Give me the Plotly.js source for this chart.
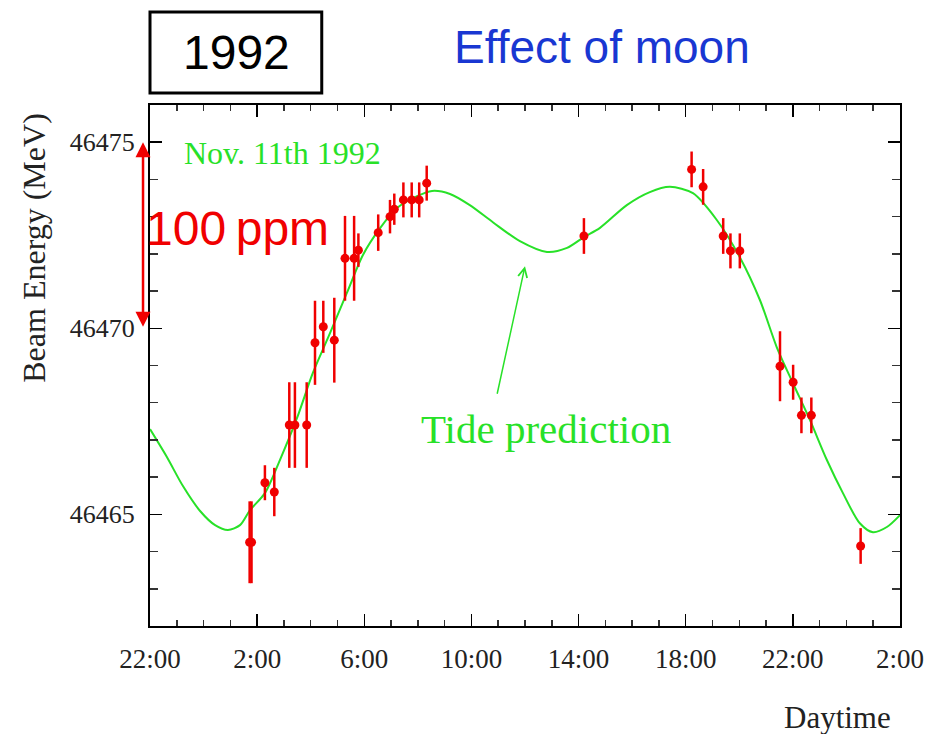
<!DOCTYPE html>
<html>
<head>
<meta charset="utf-8">
<script src="https://cdn.plot.ly/plotly-3.0.1.min.js"></script>
<style>html,body{margin:0;padding:0;background:#fff;}#chart{width:931px;height:734px;}</style>
</head>
<body>
<div id="chart"></div>
<script>
// Measured beam energy (hours since midnight Nov. 11th 1992)
var measTime = [1.72, 1.79, 2.29, 2.64, 3.20, 3.41, 3.85, 4.16, 4.47, 4.88, 5.28, 5.62, 5.78, 6.52, 6.96, 7.12, 7.46, 7.77, 8.05, 8.33,
                14.20, 18.22, 18.65, 19.40, 19.67, 20.02, 21.52, 22.01, 22.32, 22.69, 24.53];
var measEnergy = [46464.25, 46464.25, 46465.85, 46465.60, 46467.40, 46467.40, 46467.40, 46469.61, 46470.04, 46469.68, 46471.88, 46471.88, 46472.10, 46472.57, 46473.00, 46473.20, 46473.45, 46473.45, 46473.45, 46473.90,
                  46472.48, 46474.27, 46473.80, 46472.48, 46472.08, 46472.08, 46468.98, 46468.55, 46467.66, 46467.66, 46464.15];
var measError = [1.10, 1.10, 0.47, 0.65, 1.15, 1.15, 1.15, 1.13, 0.70, 1.14, 1.14, 1.14, 0.45, 0.49, 0.45, 0.42, 0.47, 0.47, 0.47, 0.47,
                 0.48, 0.48, 0.48, 0.48, 0.47, 0.47, 0.94, 0.47, 0.48, 0.48, 0.48];

// Tide prediction curve
var tideTime = [-2.0, -1.37, -0.77, -0.13, 0.43, 0.91, 1.36, 1.73, 2.29, 2.85, 3.49, 4.08, 4.72, 5.35, 5.95, 6.59, 7.22, 7.97, 8.53, 9.20,
                9.94, 10.80, 11.81, 12.82, 13.57, 14.20, 14.80, 15.80, 16.66, 17.41, 18.27, 19.16, 20.02, 20.77, 21.40, 22.00, 22.64, 23.27,
                23.87, 24.50, 24.99, 25.51, 26.0];
var tideEnergy = [46467.29, 46466.54, 46465.76, 46465.09, 46464.71, 46464.58, 46464.71, 46465.11, 46465.57, 46466.46, 46467.59, 46468.80,
                  46469.87, 46470.95, 46471.97, 46472.69, 46473.23, 46473.55, 46473.69, 46473.61, 46473.31, 46472.85, 46472.34, 46472.05,
                  46472.16, 46472.45, 46472.70, 46473.31, 46473.66, 46473.80, 46473.63, 46472.91, 46471.91, 46470.76, 46469.49, 46468.53,
                  46467.53, 46466.46, 46465.57, 46464.76, 46464.52, 46464.66, 46464.98];

// Tick labels
var xTickVals = [-2, 2, 6, 10, 14, 18, 22, 26];
var xTickText = ['22:00', '2:00', '6:00', '10:00', '14:00', '18:00', '22:00', '2:00'];
var yTickVals = [46465, 46470, 46475];
var yTickText = ['46465', '46470', '46475'];

var serif = 'Liberation Serif, Times New Roman, serif';
var sans = 'Liberation Sans, Arial, sans-serif';
var green = 'rgb(40,225,40)';
var red = 'rgb(240,0,0)';

var traces = [
  {
    x: tideTime, y: tideEnergy, type: 'scatter', mode: 'lines',
    line: {color: green, width: 2, shape: 'spline', smoothing: 0.8},
    hoverinfo: 'skip', showlegend: false
  },
  {
    x: measTime, y: measEnergy, type: 'scatter', mode: 'markers',
    marker: {color: red, size: 9},
    error_y: {type: 'data', array: measError, visible: true, color: red, thickness: 2.5, width: 0},
    showlegend: false
  }
];

var layout = {
  width: 931, height: 734,
  margin: {l: 150, r: 31, t: 105, b: 108},
  paper_bgcolor: '#fff', plot_bgcolor: '#fff',
  showlegend: false,
  xaxis: {
    range: [-2, 26], tickmode: 'array', tickvals: xTickVals, ticktext: xTickText,
    showgrid: false, zeroline: false, showline: true, linecolor: '#000', linewidth: 2, mirror: 'ticks',
    ticks: 'inside', ticklen: 12, tickwidth: 1.5, tickcolor: '#000',
    minor: {tickmode: 'linear', tick0: 0, dtick: 1, ticks: 'inside', ticklen: 6, tickwidth: 1.5, tickcolor: '#333', showgrid: false},
    tickfont: {family: serif, size: 27, color: '#222'}, ticklabelstandoff: 8
  },
  yaxis: {
    range: [46462, 46476], tickmode: 'array', tickvals: yTickVals, ticktext: yTickText,
    showgrid: false, zeroline: false, showline: true, linecolor: '#000', linewidth: 2, mirror: 'ticks',
    ticks: 'inside', ticklen: 12, tickwidth: 1.5, tickcolor: '#000',
    minor: {tickmode: 'linear', tick0: 0, dtick: 1, ticks: 'inside', ticklen: 8, tickwidth: 1.5, tickcolor: '#333', showgrid: false},
    tickfont: {family: serif, size: 26, color: '#222'}, ticklabelstandoff: 8
  },
  shapes: [
    {type: 'rect', xref: 'paper', yref: 'paper', x0: 0, x1: 0.229, y0: 1.023, y1: 1.1785,
     line: {color: '#000', width: 3}, fillcolor: 'rgba(0,0,0,0)'}
  ],
  annotations: [
    {text: '1992', xref: 'paper', yref: 'paper', x: 0.1147, y: 1.1, xanchor: 'center', yanchor: 'middle', showarrow: false,
     font: {family: sans, size: 48, color: '#000'}},
    {text: 'Effect of moon', xref: 'paper', yref: 'paper', x: 0.603, y: 1.112, xanchor: 'center', yanchor: 'middle', showarrow: false,
     font: {family: sans, size: 46, color: 'rgb(25,55,210)'}},
    {text: '100\u2009ppm', xref: 'paper', yref: 'y', x: -0.008, xanchor: 'left', yanchor: 'middle', y: 46472.69, showarrow: false,
     font: {family: sans, size: 48, color: red}},
    {text: '', xref: 'paper', yref: 'y', x: -0.0093, y: 46475, showarrow: true,
     axref: 'pixel', ayref: 'y', ax: 0, ay: 46470,
     arrowside: 'end+start', arrowhead: 2, startarrowhead: 2, arrowsize: 1.2, startarrowsize: 1.2,
     arrowwidth: 2.5, arrowcolor: red, standoff: 0, startstandoff: 0},
    {text: 'Nov. 11th 1992', xref: 'x', yref: 'y', x: -0.8, xanchor: 'left', yanchor: 'middle', y: 46474.72, showarrow: false,
     font: {family: serif, size: 32, color: green}},
    {text: 'Tide prediction', xref: 'x', yref: 'y', x: 8.05, xanchor: 'left', yanchor: 'middle', y: 46467.3, showarrow: false,
     font: {family: serif, size: 41, color: green}},
    {text: '', xref: 'x', yref: 'y', x: 12.0, y: 46471.67, showarrow: true,
     axref: 'x', ayref: 'y', ax: 10.95, ay: 46468.2,
     arrowhead: 5, arrowsize: 1.2, arrowwidth: 1.5, arrowcolor: green, standoff: 0},
    {text: 'Beam Energy (MeV)', xref: 'paper', yref: 'paper', x: -0.155, y: 0.7255, xanchor: 'center', yanchor: 'middle',
     textangle: -90, showarrow: false, font: {family: serif, size: 32, color: '#222'}},
    {text: 'Daytime', xref: 'paper', yref: 'paper', x: 0.917, y: -0.175, xanchor: 'center', yanchor: 'middle', showarrow: false,
     font: {family: serif, size: 31, color: '#222'}}
  ]
};

Plotly.newPlot('chart', traces, layout, {displayModeBar: false, staticPlot: true});
</script>
</body>
</html>
